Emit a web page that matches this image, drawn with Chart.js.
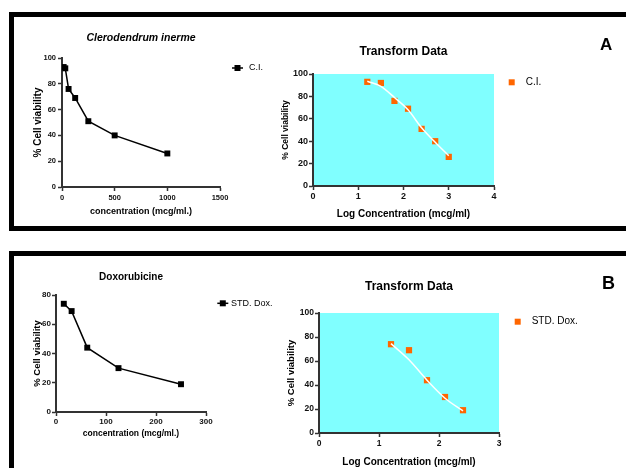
<!DOCTYPE html>
<html>
<head>
<meta charset="utf-8">
<script src="https://cdn.jsdelivr.net/npm/chart.js@4.4.0/dist/chart.umd.min.js"></script>
<style>
  html, body { margin: 0; padding: 0; background: #fff; }
  #page { position: relative; width: 626px; height: 468px; overflow: hidden; }
  .frame { position: absolute; left: 9px; width: 700px; border: 5px solid #000; box-sizing: border-box; }
  canvas { position: absolute; }
  .tag { position: absolute; font-family: "Liberation Sans", Arial, sans-serif; font-weight: bold; color: #000; }
</style>
</head>
<body>
<div id="page">
  <div class="frame" style="top:12px;height:219px"></div>
  <div class="frame" style="top:251px;height:300px"></div>
  <canvas id="clRaw" width="260" height="199" style="left:20px;top:20px"></canvas>
  <canvas id="clLog" width="290" height="190" style="left:270px;top:30px"></canvas>
  <canvas id="doxRaw" width="271" height="184" style="left:14px;top:258px"></canvas>
  <canvas id="doxLog" width="320" height="202" style="left:276px;top:266px"></canvas>
  <div class="tag" style="left:600px;top:36px;font-size:17px;line-height:17px">A</div>
  <div class="tag" style="left:602px;top:274px;font-size:18px;line-height:18px">B</div>
</div>
<script>
// Clerodendrum inerme (C.I.)
const clConc = [15.6, 31.25, 62.5, 125, 250, 500, 1000];
const clViability = [93, 92, 76, 69, 51, 40, 26];
const clLogConc = [1.2, 1.5, 1.8, 2.1, 2.4, 2.7, 3.0];
const clFit = [93.5, 89, 79, 68, 52, 39, 27];

// Doxorubicine (STD. Dox.)
const doxConc = [15.6, 31.25, 62.5, 125, 250];
const doxViability = [74, 69, 44, 30, 19];
const doxLogConc = [1.2, 1.5, 1.8, 2.1, 2.4];
const doxFit = [74.5, 61, 44, 29, 18.5];

// tick labels
const clConcTicks = [0, 500, 1000, 1500];
const doxConcTicks = [0, 100, 200, 300];
const clLogTicks = [0, 1, 2, 3, 4];
const doxLogTicks = [0, 1, 2, 3];
const viabilityTicks = [0, 20, 40, 60, 80, 100];
const doxViabilityTicks = [0, 20, 40, 60, 80];

const FONT = '"Liberation Sans", Arial, sans-serif';
const AXIS = '#333';
const ORANGE = '#FF6600';

function pts(xs, ys) {
  return xs.map((x, i) => ({ x: x, y: ys[i] }));
}

// cyan plot background
const plotBg = {
  id: 'plotBg',
  beforeDraw(chart, args, opts) {
    if (!opts.color) return;
    const a = chart.chartArea;
    chart.ctx.save();
    chart.ctx.fillStyle = opts.color;
    chart.ctx.fillRect(a.left, a.top, a.right - a.left, a.bottom - a.top);
    chart.ctx.restore();
  }
};

// legend to the right of the plot, like the GraphPad one
const sideLegend = {
  id: 'sideLegend',
  afterDraw(chart, args, opts) {
    const ds = chart.data.datasets[opts.index];
    const a = chart.chartArea;
    const ctx = chart.ctx;
    const x = a.right + opts.dx, y = a.top + opts.dy;
    ctx.save();
    ctx.fillStyle = ds.pointBackgroundColor;
    ctx.strokeStyle = ds.borderColor;
    if (opts.line) {
      ctx.lineWidth = 1.5;
      ctx.beginPath();
      ctx.moveTo(x - 5.5, y);
      ctx.lineTo(x + 5.5, y);
      ctx.stroke();
    }
    ctx.fillRect(x - 3, y - 3, 6, 6);
    ctx.fillStyle = '#000';
    ctx.font = opts.size + 'px ' + FONT;
    ctx.textBaseline = 'middle';
    ctx.fillText(ds.label, a.right + opts.textDx, y);
    ctx.restore();
  }
};

function axis(o) {
  return {
    type: 'linear',
    min: o.ticks[0],
    max: o.ticks[o.ticks.length - 1],
    afterBuildTicks: s => { s.ticks = o.ticks.map(v => ({ value: v })); },
    afterFit: s => {
      if (o.horizontal) s.height = o.size; else s.width = o.size;
      s.paddingLeft = s.paddingRight = s.paddingTop = s.paddingBottom = 0;
    },
    border: { color: AXIS, width: 2 },
    grid: { drawOnChartArea: false, tickColor: AXIS, tickWidth: 1.5, tickLength: 4 },
    ticks: {
      color: '#111',
      padding: o.tickPad,
      font: { family: FONT, size: o.tickSize, weight: 'bold' },
      callback: v => String(v)
    },
    title: {
      display: true,
      text: o.title,
      color: '#000',
      font: { family: FONT, size: o.titleSize, weight: 'bold' },
      padding: o.titlePad
    }
  };
}

function makeChart(id, o) {
  return new Chart(document.getElementById(id), {
    type: 'scatter',
    data: { datasets: o.datasets },
    options: {
      responsive: false,
      animation: false,
      devicePixelRatio: 1,
      layout: { autoPadding: false, padding: { left: 0, top: 0, bottom: 0, right: o.padRight } },
      plugins: {
        legend: { display: false },
        tooltip: { enabled: false },
        title: {
          display: true,
          text: o.title,
          fullSize: false,
          color: '#000',
          font: { family: FONT, size: o.titleSize, weight: 'bold', style: o.titleStyle || 'normal' },
          padding: o.titlePad
        },
        plotBg: { color: o.bg },
        sideLegend: o.legend
      },
      scales: { x: axis(o.x), y: axis(o.y) }
    },
    plugins: [plotBg, sideLegend]
  });
}

function rawSeries(label, xs, ys) {
  return [{
    label: label,
    data: pts(xs, ys),
    showLine: true,
    borderColor: '#000',
    borderWidth: 1.5,
    pointStyle: 'rect',
    pointRadius: 4.2,
    pointBackgroundColor: '#000',
    pointBorderColor: '#000',
    pointBorderWidth: 0
  }];
}

function logSeries(label, xs, ys, fit) {
  return [{
    label: 'fit',
    data: pts(xs, fit),
    showLine: true,
    order: 0,
    borderColor: '#fff',
    borderWidth: 1.5,
    pointRadius: 0,
    tension: 0.4,
    cubicInterpolationMode: 'monotone'
  }, {
    label: label,
    data: pts(xs, ys),
    order: 1,
    borderColor: ORANGE,
    pointStyle: 'rect',
    pointRadius: 4.4,
    pointBackgroundColor: ORANGE,
    pointBorderColor: ORANGE,
    pointBorderWidth: 0
  }];
}

makeChart('clRaw', {
  title: 'Clerodendrum inerme', titleSize: 10.5, titleStyle: 'italic',
  titlePad: { top: 12.2, bottom: 13.2 },
  padRight: 60,
  datasets: rawSeries('C.I.', clConc, clViability),
  legend: { index: 0, dx: 17.5, dy: 10, textDx: 29, size: 9, line: true },
  x: { horizontal: true, size: 32, ticks: clConcTicks, tickSize: 7.5, tickPad: 2,
       title: 'concentration (mcg/ml.)', titleSize: 9, titlePad: { top: 0, bottom: 1.6 } },
  y: { size: 42, ticks: viabilityTicks, tickSize: 7.5, tickPad: 2,
       title: '% Cell viability', titleSize: 10, titlePad: { top: 12, bottom: 0 } }
});

makeChart('clLog', {
  title: 'Transform Data', titleSize: 12,
  titlePad: { top: 14.8, bottom: 14.8 },
  padRight: 66, bg: '#80FFFF',
  datasets: logSeries('C.I.', clLogConc, clViability, clFit),
  legend: { index: 1, dx: 17.7, dy: 8.3, textDx: 31.7, size: 10, line: false },
  x: { horizontal: true, size: 34, ticks: clLogTicks, tickSize: 9, tickPad: 1.5,
       title: 'Log Concentration (mcg/ml)', titleSize: 10, titlePad: { top: 0, bottom: 0 } },
  y: { size: 43, ticks: viabilityTicks, tickSize: 9, tickPad: 1,
       title: '% Cell viability', titleSize: 8.5, titlePad: { top: 10.4, bottom: 0 } }
});

makeChart('doxRaw', {
  title: 'Doxorubicine', titleSize: 10,
  titlePad: { top: 13, bottom: 12 },
  padRight: 79,
  datasets: rawSeries('STD. Dox.', doxConc, doxViability),
  legend: { index: 0, dx: 16.8, dy: 8.3, textDx: 25, size: 9, line: true },
  x: { horizontal: true, size: 30, ticks: doxConcTicks, tickSize: 8, tickPad: 1,
       title: 'concentration (mcg/ml.)', titleSize: 8.5, titlePad: { top: 0, bottom: 3.6 } },
  y: { size: 42, ticks: doxViabilityTicks, tickSize: 8, tickPad: 1,
       title: '% Cell viability', titleSize: 9.5, titlePad: { top: 17.8, bottom: 0 } }
});

makeChart('doxLog', {
  title: 'Transform Data', titleSize: 12,
  titlePad: { top: 13.8, bottom: 18.8 },
  padRight: 97, bg: '#80FFFF',
  datasets: logSeries('STD. Dox.', doxLogConc, doxViability, doxFit),
  legend: { index: 1, dx: 18.7, dy: 8.7, textDx: 32.7, size: 10, line: false },
  x: { horizontal: true, size: 35, ticks: doxLogTicks, tickSize: 8.5, tickPad: 1.5,
       title: 'Log Concentration (mcg/ml)', titleSize: 10, titlePad: { top: 0, bottom: 0 } },
  y: { size: 43, ticks: viabilityTicks, tickSize: 8.5, tickPad: 1,
       title: '% Cell viability', titleSize: 9.5, titlePad: { top: 10, bottom: 0 } }
});
</script>
</body>
</html>
